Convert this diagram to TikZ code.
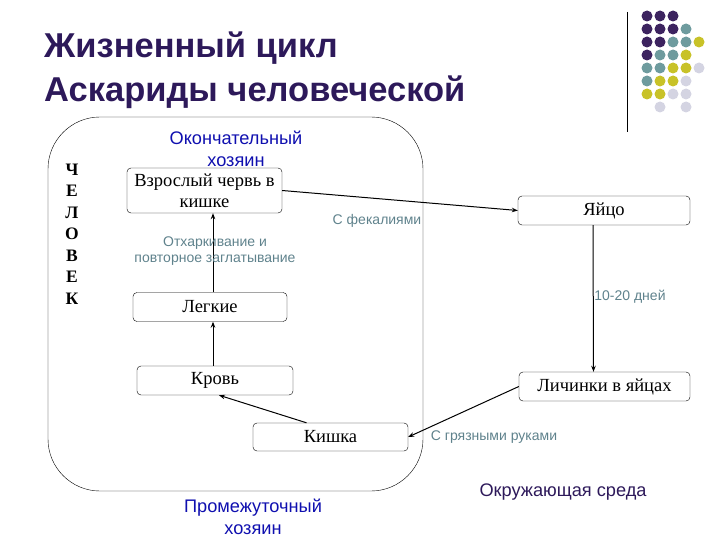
\documentclass[tikz,border=0pt]{standalone}
\usepackage{fontspec}
\setmainfont{Liberation Serif}
\setsansfont{Liberation Sans}
\usetikzlibrary{arrows.meta, positioning}

\definecolor{titlecol}{RGB}{45,25,90}
\definecolor{hostblue}{RGB}{15,15,175}
\definecolor{notecol}{RGB}{95,130,140}
\definecolor{dotP}{RGB}{60,35,95}
\definecolor{dotT}{RGB}{110,155,158}
\definecolor{dotY}{RGB}{200,194,40}
\definecolor{dotL}{RGB}{212,212,226}

\begin{document}
\begin{tikzpicture}[
        % стили
        x=1pt, y=-1pt,
        >={Stealth[length=6pt,width=4.5pt]},
        stage/.style={
            draw, rectangle, rounded corners=4pt, minimum width=155pt, minimum height=29pt,
            inner sep=1pt, align=center, font=\fontsize{18.5}{21}\selectfont
        },
        note/.style={align=center, color=notecol, font=\sffamily\fontsize{14}{16}\selectfont},
        host/.style={align=center, color=hostblue, font=\sffamily\fontsize{18.2}{22}\selectfont},
        heading/.style={anchor=base west, inner sep=0pt, color=titlecol, font=\sffamily\bfseries\fontsize{34.5}{40}\selectfont},
        arrow/.style={->, line width=1pt},
        dot/.style={circle, inner sep=0pt, minimum size=11pt}
    ]
    \useasboundingbox (0,0) rectangle (720,540);

    % 1. заголовок и декор
    \node (title1) [heading] at (44,58) {Жизненный цикл};
    \node (title2) [heading] at (44,102) {Аскариды человеческой};
    \draw (627,12) -- (627,132);
    \foreach \r/\c/\col in {1/1/dotP, 1/2/dotP, 1/3/dotP,
                            2/1/dotP, 2/2/dotP, 2/3/dotP, 2/4/dotT,
                            3/1/dotP, 3/2/dotP, 3/3/dotT, 3/4/dotT, 3/5/dotY,
                            4/1/dotP, 4/2/dotT, 4/3/dotT, 4/4/dotY,
                            5/1/dotT, 5/2/dotT, 5/3/dotY, 5/4/dotY, 5/5/dotL,
                            6/1/dotT, 6/2/dotY, 6/3/dotY, 6/4/dotL,
                            7/1/dotY, 7/2/dotY, 7/3/dotL, 7/4/dotL,
                            8/2/dotL, 8/4/dotL}
        \node (d\r\c) [dot, fill=\col] at ({634+13*\c},{3+13*\r}) {};

    % 2. организм человека
    \node (human) [draw, rounded corners=52pt, minimum width=375pt, minimum height=374pt] at (235.5,304) {};
    \node (man) [align=center, font=\bfseries\fontsize{17.5}{21.5}\selectfont] at (72,234) {Ч\\Е\\Л\\О\\В\\Е\\К};
    \node (final) [host] at (236,149) {Окончательный\\хозяин};
    \node (middle) [host] at (253,517) {Промежуточный\\хозяин};
    \node (env) [host, color=titlecol] at (563,492) {Окружающая среда};

    % 3. стадии
    \node (adult) [stage, minimum height=45pt] at (204.5,190.5) {Взрослый червь в\\кишке};
    \node (egg) [stage, minimum width=172pt] at (604,210.5) {Яйцо};
    \node (lungs) [stage, minimum width=154pt] at (210,307) {Легкие};
    \node (blood) [stage, minimum width=156pt] at (215,380.5) {Кровь};
    \node (gut) [stage, minimum height=28pt] at (330.5,437) {Кишка};
    \node (larvae) [stage, minimum width=171pt] at (604.5,386.5) {Личинки в яйцах};

    % 4. переходы
    \draw[arrow] (adult.east) -- (egg.west);
    \draw[arrow] ([xshift=-11pt]egg.south) -- ([xshift=-11pt]larvae.north);
    \draw[arrow] (larvae.west) -- (gut.east);
    \draw[arrow] ([xshift=-24pt]gut.north) -- ([xshift=4pt]blood.south);
    \draw[arrow] ([xshift=-2pt]blood.north) -- ([xshift=3pt]lungs.south);
    \draw[arrow] ([xshift=3pt]lungs.north) -- ([xshift=8.5pt]adult.south);

    % 5. подписи
    \node (feces) [note] at (377,221) {С фекалиями};
    \node (days) [note] at (630,297) {10-20 дней};
    \node (hands) [note] at (494,437) {С грязными руками};
    \node (spit) [note] at (215,251) {Отхаркивание и\\повторное заглатывание};

\end{tikzpicture}
\end{document}
